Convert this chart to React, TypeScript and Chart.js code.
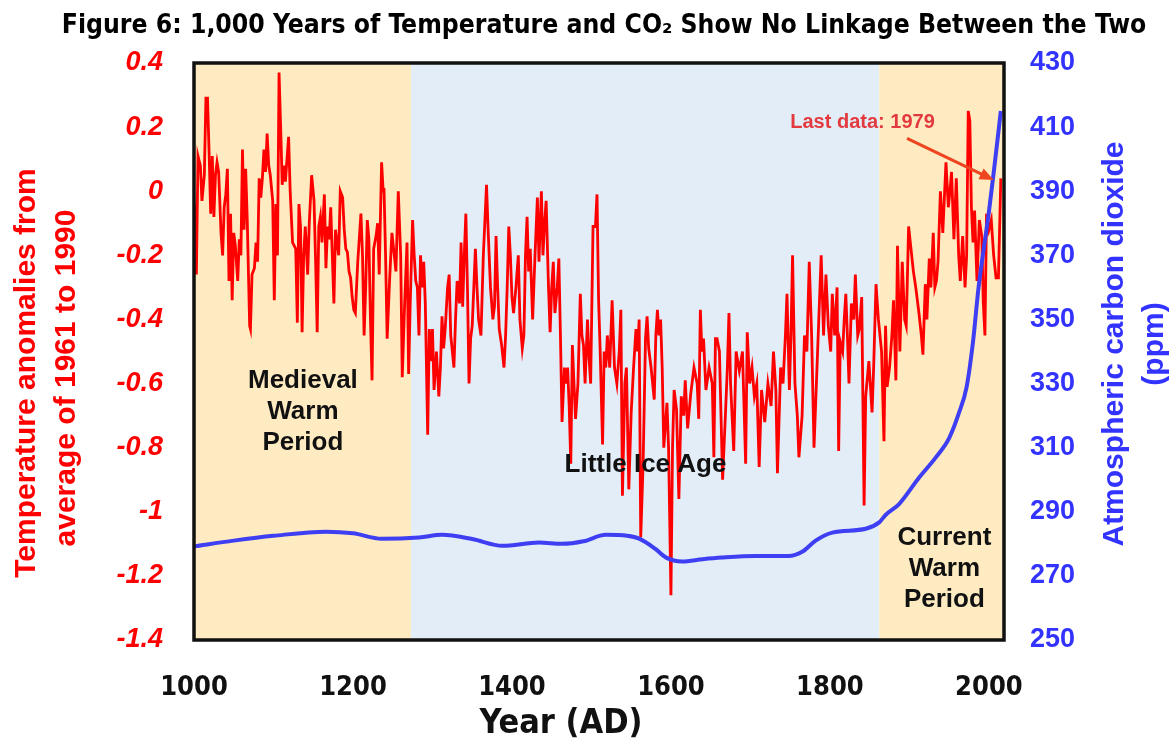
import React, { useEffect, useRef } from "react";
import { Chart, registerables } from "chart.js";

Chart.register(...registerables);

// ---------- data ----------
const xTickYears = [1000, 1200, 1400, 1600, 1800, 2000];

// period bands (years)
const periodStart = [1000, 1273, 1862];
const periodEnd = [1273, 1862, 2019];

// temperature anomalies (year, °C vs 1961-1990)
const tempRecord: Array<[number, number]> = [
  [1000, -0.03], [1002, -0.11], [1003, -0.26], [1005, 0.11], [1008, 0.08], [1010, -0.03], [1013, 0.05], [1015, 0.29], [1017, 0.29], [1019, 0.12],
  [1021, -0.07], [1023, 0.11], [1025, -0.08], [1027, 0.05], [1029, 0.09], [1031, 0.06], [1034, -0.13], [1036, -0.2], [1038, -0.05], [1040, -0.01],
  [1042, 0.07], [1044, -0.28], [1046, -0.07], [1048, -0.34], [1050, -0.13], [1052, -0.17], [1055, -0.28], [1057, -0.15], [1059, -0.2], [1061, 0.13],
  [1063, -0.12], [1065, 0.07], [1067, -0.09], [1070, -0.42], [1071, -0.43], [1073, -0.26], [1076, -0.24], [1078, -0.16], [1080, -0.22], [1082, 0.04],
  [1084, -0.02], [1086, 0.04], [1088, 0.13], [1090, 0.06], [1092, 0.18], [1094, 0.08], [1096, 0.05], [1099, -0.03], [1101, -0.34], [1103, -0.04],
  [1105, -0.2], [1107, 0.37], [1109, 0.2], [1111, 0.02], [1113, 0.08], [1115, 0.03], [1117, 0.1], [1119, 0.17], [1121, 0.0], [1124, -0.16],
  [1126, -0.17], [1128, -0.18], [1130, -0.41], [1132, -0.04], [1134, -0.11], [1136, -0.44], [1138, -0.2], [1140, -0.11], [1143, -0.26], [1145, -0.1],
  [1148, 0.05], [1151, -0.03], [1153, -0.22], [1155, -0.44], [1157, -0.11], [1159, -0.08], [1161, -0.16], [1164, -0.01], [1166, -0.24], [1168, -0.11],
  [1170, -0.15], [1172, -0.05], [1174, -0.2], [1176, -0.35], [1178, -0.12], [1180, -0.16], [1182, -0.2], [1184, 0.0], [1187, -0.02], [1189, -0.12],
  [1191, -0.18], [1193, -0.19], [1195, -0.25], [1197, -0.27], [1199, -0.33], [1201, -0.37], [1203, -0.38], [1206, -0.22], [1210, -0.07], [1212, -0.2],
  [1214, -0.45], [1216, -0.3], [1218, -0.09], [1220, -0.15], [1222, -0.4], [1224, -0.59], [1226, -0.18], [1229, -0.14], [1231, -0.1], [1233, -0.26],
  [1236, 0.09], [1238, 0.0], [1239, 0.01], [1241, -0.2], [1243, -0.46], [1246, -0.28], [1249, -0.13], [1252, -0.2], [1254, -0.25], [1257, 0.0],
  [1260, -0.2], [1262, -0.58], [1265, -0.35], [1268, -0.16], [1270, -0.57], [1272, -0.35], [1275, -0.09], [1277, -0.2], [1279, -0.28], [1281, -0.3],
  [1283, -0.45], [1285, -0.2], [1287, -0.3], [1289, -0.22], [1291, -0.35], [1294, -0.76], [1296, -0.43], [1298, -0.53], [1300, -0.43], [1302, -0.62],
  [1305, -0.5], [1308, -0.64], [1310, -0.55], [1312, -0.39], [1314, -0.49], [1316, -0.43], [1319, -0.3], [1321, -0.26], [1323, -0.45], [1327, -0.55],
  [1329, -0.4], [1331, -0.28], [1334, -0.35], [1336, -0.16], [1338, -0.36], [1340, -0.2], [1342, -0.07], [1344, -0.3], [1346, -0.6], [1348, -0.46],
  [1350, -0.42], [1352, -0.3], [1354, -0.18], [1356, -0.3], [1358, -0.4], [1361, -0.45], [1364, -0.2], [1368, 0.02], [1370, -0.12], [1373, -0.3],
  [1376, -0.4], [1378, -0.36], [1380, -0.14], [1382, -0.3], [1384, -0.43], [1387, -0.48], [1390, -0.55], [1392, -0.45], [1394, -0.3], [1396, -0.11],
  [1398, -0.2], [1400, -0.33], [1402, -0.38], [1405, -0.3], [1408, -0.2], [1410, -0.4], [1413, -0.49], [1415, -0.45], [1417, -0.2], [1419, -0.08],
  [1421, -0.25], [1423, -0.18], [1426, -0.4], [1429, -0.2], [1432, -0.02], [1434, -0.22], [1437, 0.0], [1439, -0.2], [1441, -0.1], [1443, -0.03],
  [1446, -0.3], [1448, -0.44], [1450, -0.3], [1452, -0.22], [1454, -0.38], [1457, -0.3], [1459, -0.21], [1461, -0.45], [1463, -0.72], [1466, -0.55],
  [1468, -0.6], [1470, -0.55], [1472, -0.67], [1474, -0.85], [1476, -0.48], [1478, -0.6], [1480, -0.71], [1483, -0.6], [1486, -0.32], [1488, -0.45],
  [1490, -0.48], [1492, -0.6], [1495, -0.4], [1497, -0.52], [1499, -0.6], [1502, -0.11], [1505, -0.11], [1507, -0.01], [1509, -0.34], [1511, -0.5],
  [1514, -0.79], [1516, -0.5], [1518, -0.55], [1520, -0.45], [1523, -0.55], [1526, -0.34], [1529, -0.55], [1532, -0.6], [1535, -0.5], [1537, -0.37],
  [1539, -0.95], [1542, -0.6], [1544, -0.55], [1547, -0.93], [1550, -0.69], [1553, -0.55], [1556, -0.43], [1558, -0.5], [1560, -0.4], [1562, -1.08],
  [1565, -0.85], [1568, -0.46], [1570, -0.39], [1572, -0.49], [1575, -0.55], [1579, -0.65], [1581, -0.45], [1583, -0.37], [1585, -0.45], [1587, -0.4],
  [1589, -0.55], [1591, -0.8], [1595, -0.66], [1597, -0.8], [1600, -1.26], [1602, -0.8], [1604, -0.62], [1607, -0.68], [1610, -0.96], [1613, -0.64],
  [1616, -0.7], [1618, -0.59], [1621, -0.74], [1625, -0.63], [1629, -0.55], [1633, -0.6], [1635, -0.71], [1637, -0.37], [1639, -0.5], [1641, -0.46],
  [1644, -0.62], [1648, -0.55], [1652, -0.6], [1654, -0.83], [1656, -0.46], [1658, -0.46], [1661, -0.5], [1665, -0.9], [1669, -0.67], [1671, -0.55],
  [1673, -0.38], [1675, -0.6], [1679, -0.81], [1682, -0.5], [1686, -0.56], [1690, -0.5], [1694, -0.85], [1696, -0.44], [1699, -0.6], [1702, -0.55],
  [1705, -0.64], [1708, -0.6], [1711, -0.86], [1714, -0.62], [1718, -0.72], [1722, -0.6], [1726, -0.67], [1729, -0.5], [1732, -0.62], [1734, -0.88],
  [1738, -0.55], [1741, -0.6], [1744, -0.45], [1746, -0.32], [1749, -0.62], [1751, -0.45], [1753, -0.2], [1756, -0.6], [1759, -0.7], [1761, -0.83],
  [1765, -0.7], [1768, -0.45], [1771, -0.5], [1774, -0.22], [1777, -0.45], [1780, -0.8], [1783, -0.6], [1786, -0.4], [1789, -0.2], [1792, -0.45],
  [1795, -0.26], [1798, -0.42], [1801, -0.5], [1803, -0.32], [1806, -0.45], [1809, -0.3], [1811, -0.81], [1813, -0.47], [1816, -0.5], [1818, -0.4],
  [1820, -0.32], [1822, -0.45], [1824, -0.6], [1827, -0.35], [1830, -0.4], [1832, -0.26], [1835, -0.45], [1837, -0.43], [1840, -0.33], [1843, -0.98],
  [1845, -0.64], [1849, -0.53], [1853, -0.69], [1855, -0.55], [1858, -0.29], [1861, -0.4], [1865, -0.5], [1868, -0.78], [1870, -0.42], [1872, -0.61],
  [1875, -0.55], [1878, -0.45], [1880, -0.34], [1883, -0.59], [1885, -0.17], [1888, -0.5], [1891, -0.22], [1894, -0.4], [1896, -0.42], [1899, -0.11],
  [1902, -0.18], [1905, -0.25], [1908, -0.3], [1912, -0.38], [1915, -0.45], [1917, -0.51], [1920, -0.29], [1922, -0.4], [1925, -0.21], [1927, -0.3],
  [1930, -0.13], [1932, -0.3], [1934, -0.28], [1936, -0.22], [1939, 0.0], [1942, -0.13], [1946, 0.09], [1949, -0.05], [1951, 0.0], [1953, 0.06],
  [1956, -0.15], [1959, 0.04], [1962, -0.2], [1964, -0.28], [1967, -0.14], [1970, -0.3], [1972, -0.2], [1974, 0.25], [1976, 0.22], [1978, -0.05],
  [1980, -0.16], [1982, -0.06], [1985, -0.28], [1988, -0.09], [1991, -0.14], [1993, -0.35], [1995, -0.45], [1997, -0.07], [2000, -0.12], [2003, -0.09],
  [2006, -0.2], [2009, -0.27], [2012, -0.27], [2015, 0.04],
];

// atmospheric CO2 (ppm)
const co2Years = [1000, 1050, 1100, 1166, 1200, 1236, 1283, 1312, 1350, 1388, 1434, 1463, 1490, 1518, 1545, 1560, 1580, 1594, 1614, 1640,
  1664, 1707, 1748, 1765, 1782, 1803, 1845, 1862, 1870, 1887, 1912, 1933, 1950, 1962, 1972, 1980, 1987, 2000, 2008, 2015];
const co2Ppm = [279.2, 281, 282.5, 283.8, 283.3, 281.6, 282, 282.8, 281.5, 279.4, 280.4, 280, 280.8, 282.8, 282.5, 281.6, 278.5, 275.7, 274.5, 275.2,
  275.7, 276.2, 276.2, 277.5, 281, 283.5, 284.7, 286.7, 289, 292.4, 300.6, 306.9, 313, 320.6, 329, 343, 360, 383.5, 400, 415];

// ---------- text ----------
const titleText = "Figure 6: 1,000 Years of Temperature and CO\u2082 Show No Linkage Between the Two";
const leftTitle = ["Temperature anomalies from", "average of 1961 to 1990"];
const rightTitle = ["Atmospheric carbon dioxide", "(ppm)"];
const xTitle = "Year (AD)";
const medievalLabel = ["Medieval", "Warm", "Period"];
const iceAgeLabel = ["Little Ice Age"];
const currentLabel = ["Current", "Warm", "Period"];
const lastDataLabel = "Last data: 1979";

// ---------- styles ----------
const TAN = "#FEEBC2";
const LIGHT_BLUE = "#E2EDF8";
const bandColors = [TAN, LIGHT_BLUE, TAN];
const RED = "#FF0000";
const BLUE_TEXT = "#3333FF";
const BLUE_LINE = "#3E3EF2";
const ARIAL = "'Liberation Sans', Arial, sans-serif";
const NARROW = "'Liberation Sans Narrow', 'Arial Narrow', 'DejaVu Sans Condensed', sans-serif";

const decor = {
  id: "decor",
  beforeDatasetsDraw(chart: any) {
    const { ctx, chartArea: a, scales } = chart;
    const x = scales.x;
    ctx.save();
    for (let i = 0; i < periodStart.length; i++) {
      const x0 = x.getPixelForValue(periodStart[i]);
      const x1 = x.getPixelForValue(periodEnd[i]);
      ctx.fillStyle = bandColors[i];
      ctx.fillRect(x0, a.top, x1 - x0, a.bottom - a.top);
    }
    ctx.restore();
  },
  afterDatasetsDraw(chart: any) {
    const { ctx, chartArea: a, scales } = chart;
    const x = scales.x;
    const yT = scales.yT;
    ctx.save();
    // period labels
    ctx.fillStyle = "#111";
    ctx.font = `bold 26px ${ARIAL}`;
    ctx.textAlign = "center";
    ctx.textBaseline = "middle";
    const drawLines = (lines: string[], year: number, v0: number, step: number) => {
      const px = x.getPixelForValue(year);
      const py = yT.getPixelForValue(v0);
      lines.forEach((t, i) => ctx.fillText(t, px, py + i * step));
    };
    drawLines(medievalLabel, 1137, -0.59, 31);
    drawLines(iceAgeLabel, 1568, -0.855, 31);
    drawLines(currentLabel, 1944, -1.082, 31);

    // last data annotation
    ctx.fillStyle = "#E23A3E";
    ctx.font = `bold 20px ${ARIAL}`;
    ctx.fillText(lastDataLabel, x.getPixelForValue(1841), yT.getPixelForValue(0.215));
    const ax0 = x.getPixelForValue(1897), ay0 = yT.getPixelForValue(0.165);
    const ax1 = x.getPixelForValue(2006), ay1 = yT.getPixelForValue(0.035);
    const ang = Math.atan2(ay1 - ay0, ax1 - ax0);
    ctx.strokeStyle = "#EE4420";
    ctx.fillStyle = "#EE4420";
    ctx.lineWidth = 3;
    ctx.beginPath();
    ctx.moveTo(ax0, ay0);
    ctx.lineTo(ax1 - 10 * Math.cos(ang), ay1 - 10 * Math.sin(ang));
    ctx.stroke();
    ctx.beginPath();
    ctx.moveTo(ax1, ay1);
    ctx.lineTo(ax1 - 14 * Math.cos(ang) + 6 * Math.sin(ang), ay1 - 14 * Math.sin(ang) - 6 * Math.cos(ang));
    ctx.lineTo(ax1 - 14 * Math.cos(ang) - 6 * Math.sin(ang), ay1 - 14 * Math.sin(ang) + 6 * Math.cos(ang));
    ctx.closePath();
    ctx.fill();

    // plot border
    ctx.strokeStyle = "#111";
    ctx.lineWidth = 3.5;
    ctx.strokeRect(a.left, a.top, a.right - a.left, a.bottom - a.top);
    ctx.restore();
  },
  afterDraw(chart: any) {
    const { ctx } = chart;
    ctx.save();
    // main title
    ctx.fillStyle = "#000";
    ctx.textAlign = "center";
    ctx.textBaseline = "alphabetic";
    ctx.font = `bold 28px ${NARROW}`;
    const w = ctx.measureText(titleText).width;
    const fs = (28 * 1084) / w;
    ctx.font = `bold ${fs.toFixed(1)}px ${NARROW}`;
    ctx.fillText(titleText, 604, 33);

    // x title
    ctx.font = `bold 34px ${NARROW}`;
    ctx.fillStyle = "#111";
    ctx.fillText(xTitle, 561, 733);

    // left title
    ctx.fillStyle = RED;
    ctx.font = `bold 30px ${ARIAL}`;
    const rot = (text: string, bx: number, cy: number) => {
      ctx.save();
      ctx.translate(bx, cy);
      ctx.rotate(-Math.PI / 2);
      ctx.fillText(text, 0, 0);
      ctx.restore();
    };
    rot(leftTitle[0], 35, 373);
    rot(leftTitle[1], 75, 378);
    ctx.fillStyle = BLUE_TEXT;
    rot(rightTitle[0], 1123, 344);
    rot(rightTitle[1], 1163, 344);
    ctx.restore();
  },
};

export default function App() {
  const ref = useRef<HTMLCanvasElement>(null);
  useEffect(() => {
    const chart = new Chart(ref.current as HTMLCanvasElement, {
      type: "line",
      data: {
        datasets: [
          {
            label: "CO2",
            data: co2Years.map((x, i) => ({ x, y: co2Ppm[i] })),
            yAxisID: "yC",
            borderColor: BLUE_LINE,
            borderWidth: 4,
            pointRadius: 0,
            cubicInterpolationMode: "monotone",
            order: 0,
          } as any,
          {
            label: "Temperature",
            data: tempRecord.map(([x, y]) => ({ x, y })),
            yAxisID: "yT",
            borderColor: RED,
            borderWidth: 2.8,
            pointRadius: 0,
            tension: 0,
            order: 1,
          } as any,
        ],
      },
      options: {
        responsive: false,
        animation: false,
        devicePixelRatio: 1,
        layout: { padding: { top: 63, left: 0, right: 0, bottom: 0 } },
        plugins: {
          legend: { display: false },
          tooltip: { enabled: false },
          title: { display: false },
        },
        scales: {
          x: {
            type: "linear",
            min: 1000,
            max: 2019,
            grid: { display: false, drawTicks: false },
            border: { display: false },
            afterBuildTicks: (s: any) => {
              s.ticks = xTickYears.map((v) => ({ value: v }));
            },
            afterFit: (s: any) => {
              s.height = 100;
            },
            ticks: {
              autoSkip: false,
              maxRotation: 0,
              padding: 32,
              color: "#111",
              font: { family: NARROW, size: 27, weight: "bold" },
              callback: (v: any) => String(v),
            },
          },
          yT: {
            type: "linear",
            position: "left",
            min: -1.4,
            max: 0.4,
            grid: { display: false, drawTicks: false },
            border: { display: false },
            afterFit: (s: any) => {
              s.width = 194;
            },
            ticks: {
              stepSize: 0.2,
              padding: 31,
              color: RED,
              font: { family: ARIAL, size: 27, weight: "bold", style: "italic" },
              callback: (v: any) => String(Math.round(Number(v) * 10) / 10),
            },
          },
          yC: {
            type: "linear",
            position: "right",
            min: 250,
            max: 430,
            grid: { display: false, drawTicks: false },
            border: { display: false },
            afterFit: (s: any) => {
              s.width = 168;
            },
            ticks: {
              stepSize: 20,
              padding: 26,
              color: BLUE_TEXT,
              font: { family: ARIAL, size: 27, weight: "bold" },
            },
          },
        },
      } as any,
      plugins: [decor],
    });
    return () => chart.destroy();
  }, []);
  return (
    <div style={{ position: "absolute", left: 0, top: 0, width: 1172, height: 740, background: "#fff" }}>
      <canvas ref={ref} width={1172} height={740} style={{ display: "block" }} />
    </div>
  );
}
